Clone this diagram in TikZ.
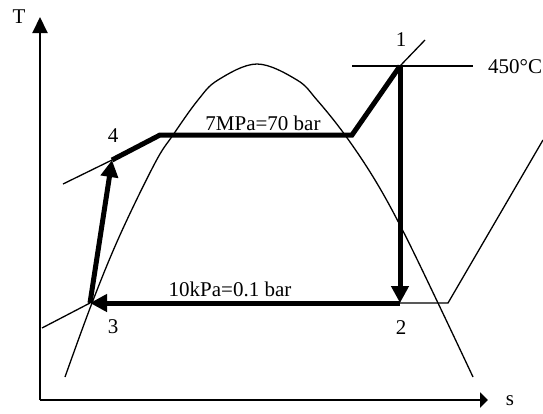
\documentclass[tikz,border=0pt]{standalone}
\usepackage{fontspec}
\setmainfont{Liberation Serif}
\usetikzlibrary{arrows.meta}
\begin{document}
\begin{tikzpicture}[x=1pt,y=-1pt,
  thin line/.style={line width=1.3pt},
  axis line/.style={line width=2pt,-{Triangle[length=16pt,width=15pt]}},
  cycle line/.style={line width=5pt,line join=miter},
  cycle arrow/.style={line width=5pt,-{Triangle[length=17pt,width=17pt]}},
  lbl/.style={font=\fontsize{21}{24}\selectfont,inner sep=0pt,anchor=base}]
\useasboundingbox (0,0) rectangle (543,413);
% axes
\coordinate (O) at (40,400);
\coordinate (Ttip) at (40,17);
\coordinate (Stip) at (488,400);
\draw[axis line] (O) -- (Ttip);
\draw[line width=2pt,-{Triangle[length=8pt,width=15pt]}] (O) -- (Stip);
\node[lbl] (T) at (19,23) {T};
\node[lbl] (s) at (510,405) {s};
% saturation dome
\draw[thin line] plot[smooth,tension=0.6] coordinates {(65,377) (92,303) (120,235) (155,163) (173,135) (198,100) (218,80) (257,64) (297,80) (317,100) (345,135) (375,180) (403,231) (438,303) (473,377)};
% state points
\coordinate (p1) at (400,66);
\coordinate (p2) at (400,303);
\coordinate (p3) at (90,303);
\coordinate (p4) at (112,160);
\coordinate (b4) at (160,135);
\coordinate (b1) at (352,135);
% thin isobars / isotherm
\coordinate (e4) at (63,184);
\coordinate (e1) at (425,40);
\coordinate (e3) at (42,328);
\coordinate (r2) at (448,303);
\coordinate (r2e) at (543,140);
\coordinate (t1) at (352,66);
\coordinate (t2) at (473,66);
\draw[thin line] (e4) -- (p4);
\draw[thin line] (p1) -- (e1);
\draw[thin line] (e3) -- (p3);
\draw[thin line] (p2) -- (r2) -- (r2e);
\draw[thin line] (t1) -- (t2);
% cycle
\draw[cycle line] (p4) -- (b4) -- (b1) -- (p1);
\draw[cycle arrow] (p1) -- (p2);
\draw[cycle arrow] (p2) -- (p3);
\draw[cycle arrow] (p3) -- (p4);
% labels
\node[lbl] (l1) at (401,46) {1};
\node[lbl] (l2) at (401,334) {2};
\node[lbl] (l3) at (113,333) {3};
\node[lbl] (l4) at (113,142) {4};
\node[lbl,anchor=base west] (temp) at (488,73) {450°C};
\node[lbl] (hp) at (263,130) {7MPa=70 bar};
\node[lbl] (lp) at (230,296) {10kPa=0.1 bar};
\end{tikzpicture}
\end{document}
